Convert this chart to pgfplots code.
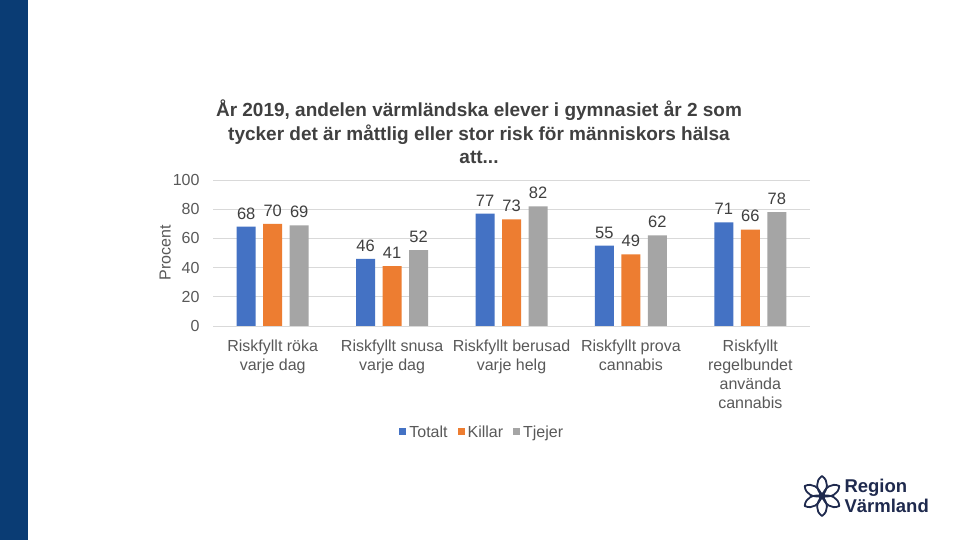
\documentclass[border=0pt]{standalone}
\usepackage{pgfplots}
\pgfplotsset{compat=1.18}
\usepackage{fontspec}
\setmainfont{Liberation Sans}
\definecolor{navy}{HTML}{0A3C74}
\definecolor{cblue}{HTML}{4472C4}
\definecolor{corange}{HTML}{ED7D31}
\definecolor{cgray}{HTML}{A5A5A5}
\definecolor{txt}{HTML}{595959}
\definecolor{ttl}{HTML}{404040}
\definecolor{gridc}{HTML}{D9D9D9}
\definecolor{logo}{HTML}{1F2A4E}
\begin{document}
\begin{tikzpicture}[x=1pt,y=1pt]
\useasboundingbox (0,0) rectangle (960,540);
\fill[white] (0,0) rectangle (960,540);
\fill[navy] (0,0) rectangle (28,540);
% title
\node[align=center, font=\fontsize{19}{23.5}\selectfont\bfseries, text=ttl, anchor=center] at (479,408)
 {År 2019, andelen värmländska elever i gymnasiet år 2 som\\tycker det är måttlig eller stor risk för människors hälsa\\att...};
\begin{axis}[
  at={(213pt,214pt)}, anchor=south west,
  scale only axis, width=597pt, height=146pt,
  xmin=-0.5, xmax=4.5, ymin=0, ymax=100,
  ybar=7.5pt, bar width=19pt,
  axis line style={draw=none},
  ymajorgrids, xmajorgrids=false, grid style={draw=gridc, line width=0.8pt},
  ytick={0,20,40,60,80,100},
  xtick={0,1,2,3,4},
  xticklabels={{Riskfyllt röka\\varje dag},{Riskfyllt snusa\\varje dag},{Riskfyllt berusad\\varje helg},{Riskfyllt prova\\cannabis},{Riskfyllt\\regelbundet\\använda\\cannabis}},
  major tick length=0pt,
  tick label style={font=\fontsize{16}{19}\selectfont, text=txt},
  xticklabel style={align=center, anchor=north, yshift=-10pt},
  yticklabel style={xshift=-10pt},
  /pgf/number format/assume math mode=true,
  ylabel={Procent}, ylabel style={font=\fontsize{16}{18}\selectfont, text=txt, at={(axis description cs:-0.08,0.5)}, anchor=center},
  nodes near coords,
  nodes near coords style={font=\fontsize{16.5}{18}\selectfont, text=ttl, yshift=4pt},
  legend style={at={(0.451,-0.726)}, anchor=center, draw=none, fill=none, legend columns=3,
    font=\fontsize{16}{18}\selectfont, text=txt,
    /tikz/every odd column/.append style={column sep=1pt},
    /tikz/every even column/.append style={column sep=8pt}},
  legend image code/.code={\fill[#1] (0pt,-3.5pt) rectangle (7pt,3.5pt);},
  legend cell align=left,
  clip=false,
]
\addplot[fill=cblue, draw=none] coordinates {(0,68) (1,46) (2,77) (3,55) (4,71)};
\addplot[fill=corange, draw=none] coordinates {(0,70) (1,41) (2,73) (3,49) (4,66)};
\addplot[fill=cgray, draw=none] coordinates {(0,69) (1,52) (2,82) (3,62) (4,78)};
\legend{Totalt,Killar,Tjejer}
\end{axis}
% logo
\begin{scope}[shift={(822,44)}]
  \foreach \a in {90,150,210,270,330,30} {
    \draw[logo, line width=1.8pt, rotate=\a, line join=round] (0,0) .. controls (7,6) and (15,7) .. (20,0) .. controls (15,-7) and (7,-6) .. (0,0);
  }
  \draw[logo, line width=1.2pt] (0,0) circle (3);
\end{scope}
\node[anchor=west, align=left, font=\fontsize{18.5}{20}\selectfont\bfseries, text=logo] at (841,44) {Region\\Värmland};
\end{tikzpicture}
\end{document}
